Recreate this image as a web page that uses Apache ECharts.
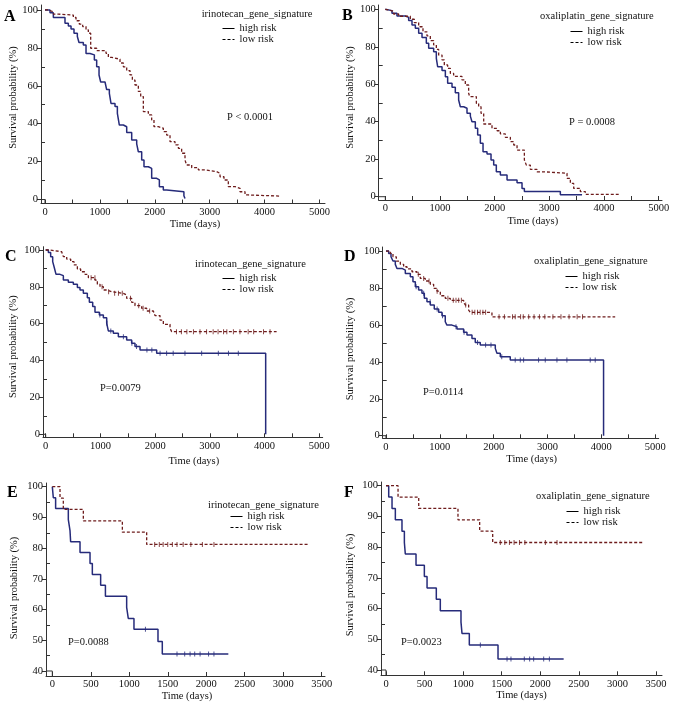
<!DOCTYPE html>
<html><head><meta charset="utf-8">
<script src="https://cdn.jsdelivr.net/npm/echarts@6/dist/echarts.min.js"></script>
<style>html,body{margin:0;padding:0;background:#fff}#c{width:677px;height:706px}</style>
</head><body><div id="c"></div>
<script>
// ---------------- DATA ----------------
const letters = ['A','B','C','D','E','F'];
const signatures = ['irinotecan_gene_signature','oxaliplatin_gene_signature','irinotecan_gene_signature','oxaliplatin_gene_signature','irinotecan_gene_signature','oxaliplatin_gene_signature'];
const pTexts = ['P < 0.0001','P = 0.0008','P=0.0079','P=0.0114','P=0.0088','P=0.0023'];
const seriesNames = ['high risk','low risk'];
const xTitle = 'Time (days)';
const yTitle = 'Survival probability (%)';

const xLabelsLong = [0,1000,2000,3000,4000,5000];
const xTicksLong = [0,500,1000,1500,2000,2500,3000,3500,4000,4500,5000];
const xLabelsShort = [0,500,1000,1500,2000,2500,3000,3500];
const xTicksShort = [0,500,1000,1500,2000,2500,3000,3500];
const yLabelsFull = [0,20,40,60,80,100];
const yMinorFull = [10,30,50,70,90];
const yLabelsCut = [40,50,60,70,80,90,100];
const yMinorCut = [45,55,65,75,85,95];

// Panel A
const aHigh = [[0,100],[91,98.5],[152,96],[364,93],[425,91.5],[474,90],[528,87.7],[589,86],[619,82.8],[698,81.5],[747,77],[820,76.3],[899,73.6],[941,70],[984,65.7],[1014,62],[1093,61.3],[1123,58],[1172,56],[1202,50.7],[1275,49],[1318,45.5],[1354,39.3],[1427,38.4],[1488,35.3],[1579,31.4],[1670,29.3],[1700,25.2],[1761,20.8],[1803,17.3],[1882,16.4],[1943,11.2],[2034,10.3],[2083,6.8],[2155,5],[2216,4.1],[2530,2],[2550,0.5]];
const aLow = [[0,100],[61,99],[152,97.8],[243,97.3],[516,96],[565,94.3],[625,92.5],[686,91.2],[747,89.5],[789,87.7],[832,79.8],[941,78.5],[1111,77.1],[1154,75],[1214,74],[1366,72],[1427,70],[1488,68],[1548,65.7],[1591,63],[1639,60.4],[1700,57],[1743,54.3],[1791,46.4],[1882,44.6],[1943,42],[1985,38.4],[2064,37.6],[2155,35.8],[2216,34],[2277,30.5],[2368,28.8],[2429,27],[2489,24.4],[2550,20.8],[2580,18.2],[2672,16.8],[2793,15.6],[2914,14.7],[3127,13.8],[3188,12],[3260,10.3],[3339,6.8],[3461,5.9],[3552,4.1],[3643,2.4],[3700,1.8],[4290,1.8]];
const aHighCens = [];
const aLowCens = [];

// Panel B
const bHigh = [[0,100],[30,99.3],[122,97.9],[213,96.4],[366,95.7],[427,94],[488,91.6],[549,89.9],[610,87.2],[671,85],[750,81.9],[793,79.2],[884,77.4],[933,73.8],[957,69.4],[1037,67.3],[1098,64],[1140,60.5],[1220,58.4],[1280,55.5],[1341,51.6],[1372,48],[1433,47.2],[1494,44.5],[1555,43],[1585,40],[1646,36.5],[1689,32.9],[1738,28.5],[1787,24],[1860,22.8],[1933,19.6],[1982,16.9],[2030,13.3],[2104,11.6],[2226,8.9],[2409,7.5],[2500,4.4],[2543,2.8],[3201,1],[3598,1]];
const bLow = [[0,100],[30,99],[152,97.5],[244,96.3],[457,94.7],[530,92.9],[610,90.7],[689,88],[762,85.8],[823,83.3],[884,81],[933,78.6],[976,75.6],[1037,73],[1079,70.3],[1140,68.5],[1189,65.8],[1250,64.2],[1402,62.3],[1463,59.6],[1524,55.2],[1543,53.4],[1665,49.8],[1707,48],[1750,44.5],[1799,38.8],[1951,36.5],[2043,35.2],[2104,33.5],[2195,31.7],[2287,29.4],[2348,27.6],[2409,24.9],[2543,19.6],[2579,16.9],[2652,14.6],[2774,13.3],[2896,12.5],[3323,9.8],[3384,7.1],[3445,4.4],[3567,2.7],[3659,1.2],[4268,1.2]];
const bHighCens = [];
const bLowCens = [];

// Panel C
const cHigh = [[0,100],[49,98.7],[91,96.4],[128,93.7],[158,90.4],[189,86.8],[262,86.1],[323,83.7],[414,82.5],[505,81.4],[579,79.6],[627,78.3],[688,76.5],[761,74.1],[798,71.6],[859,69.3],[901,66.2],[981,64.7],[1054,63.3],[1115,60.2],[1145,56.1],[1236,54.8],[1328,53],[1480,51.2],[1571,49.4],[1632,47.6],[1724,45.8],[2028,44],[4020,0]];
const cLow = [[0,100],[79,99.1],[292,98.2],[323,96.4],[384,95.1],[457,93.7],[518,91.9],[579,89.7],[639,88.2],[719,86.8],[780,85],[901,83.7],[944,81.4],[993,80.1],[1054,78.3],[1115,77.4],[1206,76.5],[1419,75.6],[1480,73.8],[1571,71.6],[1632,69.8],[1754,68.4],[1845,66.9],[1967,66.2],[1998,64.4],[2089,62],[2150,59.7],[2272,57.5],[2302,55.7],[4220,55.7]];
const cHighCens = [990,1120,1190,1420,1575,1660,1850,1940,2090,2210,2330,2545,2850,3155,3340,3520];
const cLowCens = [830,900,1030,1150,1260,1330,1400,1550,1700,1780,1900,2390,2480,2580,2700,2820,2940,3060,3150,3250,3310,3430,3550,3700,3800,3980,4100];

// Panel D
const dHigh = [[0,100],[50,98.7],[93,96.9],[130,94.6],[173,92.8],[204,90.6],[297,89.7],[359,87.9],[452,86.1],[501,83.4],[545,80.7],[606,78.9],[668,77.1],[712,74.4],[761,72.6],[823,70.8],[897,68.6],[978,66.8],[1040,65],[1101,61.7],[1132,59.9],[1225,59],[1318,57.8],[1442,56],[1504,54.5],[1597,52.7],[1658,50.5],[1751,49.1],[2030,47.3],[2061,44.6],[2123,42.8],[2308,41],[4041,0]];
const dLow = [[0,100],[80,98.7],[130,96.9],[192,94.6],[266,92.8],[328,91.5],[390,90.3],[483,88.8],[575,87.4],[637,85.2],[730,83.8],[823,82],[885,79.8],[947,78.3],[1009,75.8],[1101,74.4],[1194,73.3],[1442,72.2],[1473,70.8],[1535,68],[1566,66.8],[1968,64.4],[4257,64.4]];
const dHighCens = [560,700,820,950,1050,1300,1450,1700,1850,1950,2150,2400,2494,2556,2834,2958,3175,3360,3793,3886];
const dLowCens = [600,700,800,950,1150,1250,1300,1350,1400,1480,1600,1650,1700,1750,1800,1850,2100,2200,2350,2400,2500,2550,2650,2750,2850,2950,3100,3250,3400,3550,3650];

// Panel E
const eHigh = [[0,100],[13,96.4],[43,92.9],[208,89.3],[230,85.7],[238,82.1],[360,78.6],[490,75],[520,71.4],[628,67.9],[690,64.3],[966,60.7],[987,57.1],[1061,53.6],[1373,49.6],[1429,45.5],[2287,45.5]];
const eLow = [[0,100],[100,96.3],[143,92.6],[403,88.9],[910,85.2],[1226,81.2],[3339,81.2]];
const eHighCens = [1210,1620,1720,1790,1850,1920,2030,2100];
const eLowCens = [1330,1390,1440,1500,1560,1620,1700,1800,1950,2100];

// Panel F
const fHigh = [[0,100],[35,96.3],[78,92.6],[121,88.9],[207,85.2],[238,81.5],[250,77.8],[389,74.1],[497,70.4],[532,66.7],[652,63],[704,59.3],[972,55.6],[985,51.9],[1080,48.1],[1452,43.6],[2303,43.6]];
const fLow = [[0,100],[156,96.3],[424,92.6],[933,88.9],[1214,85.2],[1383,81.5],[3332,81.5]];
const fHighCens = [1223,1569,1620,1793,1862,1914,2044,2118];
const fLowCens = [1482,1540,1600,1660,1730,1800,2066,2217];

// ---------------- LAYOUT ----------------
const FONT = "'Liberation Serif','Times New Roman',serif";
const HIGH_COLOR = '#262b7a';
const LOW_COLOR = '#6e1c1c';
const AXIS_COLOR = '#333';

const layouts = [
  {grid:[41,5,284,198.5], x:[-73,5100], y:[-2.1,102.6], long:true, xGap:13.5, xPad:24, yGap:22.5, yShift:6.75, letter:[4,8.5], lt:[201.7,9], lg:[222,23], p:[227,112]},
  {grid:[378.7,5,283.3,195], x:[-121,5060], y:[-1.76,102.3], long:true, xGap:15.7, xPad:25, yGap:23, yShift:5, letter:[342,7.5], lt:[540,11], lg:[570,26], p:[569,117]},
  {grid:[43,246.7,279.7,190.6], x:[-49,5062], y:[-1.63,101.8], long:true, xGap:18, xPad:22, yGap:24.5, yShift:-4.7, letter:[5,248.5], lt:[195,259], lg:[222,273], p:[100,383]},
  {grid:[382.7,247,276,191.3], x:[-61,5065], y:[-1.4,102.2], long:true, xGap:15.7, xPad:22, yGap:27, yShift:-6.3, letter:[344,248.5], lt:[534,256], lg:[565,271], p:[423,387]},
  {grid:[46,483,279,193], x:[-82,3543], y:[38.37,101.2], long:false, xGap:14.7, xPad:3, yGap:26.5, yShift:-8.5, letter:[7,484.5], lt:[208,500], lg:[230,511], p:[68,637]},
  {grid:[381,482,281,193.3], x:[-65,3578], y:[38.27,101.2], long:false, xGap:14.7, xPad:0, yGap:25.5, yShift:-6.3, letter:[344,484.5], lt:[536,491], lg:[566,506], p:[401,637]}
];
const curves = [[aHigh,aLow],[bHigh,bLow],[cHigh,cLow],[dHigh,dLow],[eHigh,eLow],[fHigh,fLow]];
const censors = [[aHighCens,aLowCens],[bHighCens,bLowCens],[cHighCens,cLowCens],[dHighCens,dLowCens],[eHighCens,eLowCens],[fHighCens,fLowCens]];

function survAt(curve, t){
  let s = curve[0][1];
  for (const p of curve){ if (p[0] <= t) s = p[1]; else break; }
  return s;
}

const grids=[], xAxes=[], yAxes=[], series=[], titles=[], legends=[];
const txt = (size, extra) => Object.assign({fontFamily:FONT, fontSize:size, color:'#111'}, extra||{});
const plain = v => String(v);

layouts.forEach((L, i) => {
  grids.push({left:L.grid[0], top:L.grid[1], width:L.grid[2], height:L.grid[3], outerBoundsMode:'none', containLabel:false});
  const xLabels = L.long ? xLabelsLong : xLabelsShort;
  const xTicks = L.long ? xTicksLong : xTicksShort;
  const yLabels = L.long ? yLabelsFull : yLabelsCut;
  const yMinor = L.long ? yMinorFull : yMinorCut;
  xAxes.push({
    gridIndex:i, type:'value', min:L.x[0], max:L.x[1], position:'bottom',
    axisLine:{onZero:false, lineStyle:{color:AXIS_COLOR, width:1}},
    axisTick:{inside:true, length:4, customValues:xTicks, lineStyle:{color:AXIS_COLOR}},
    axisLabel:{customValues:xLabels, formatter:plain, margin:3, fontFamily:FONT, fontSize:10.5, color:'#111'},
    splitLine:{show:false},
    name:xTitle, nameLocation:'middle', nameGap:L.xGap,
    nameTextStyle:txt(10.5, {padding:[0,0,0,L.xPad]})
  });
  const sh = L.yShift;
  yAxes.push({
    gridIndex:i, type:'value', min:L.y[0], max:L.y[1], position:'left',
    axisLine:{onZero:false, lineStyle:{color:AXIS_COLOR, width:1}},
    axisTick:{inside:false, length:4, customValues:yLabels, lineStyle:{color:AXIS_COLOR}},
    axisLabel:{customValues:yLabels, formatter:plain, margin:3, fontFamily:FONT, fontSize:10.5, color:'#111'},
    splitLine:{show:false},
    name:yTitle, nameLocation:'middle', nameGap:L.yGap,
    nameTextStyle:txt(10.5, {padding: sh>=0 ? [0,0,0,2*sh] : [0,-2*sh,0,0]})
  });
  yAxes.push({
    gridIndex:i, type:'value', min:L.y[0], max:L.y[1], position:'left',
    axisLine:{show:false, onZero:false},
    axisTick:{inside:true, length:4, customValues:yMinor, lineStyle:{color:AXIS_COLOR}},
    axisLabel:{show:false}, splitLine:{show:false}
  });
  const yBase = yLabels[0];
  series.push({type:'line', xAxisIndex:i, yAxisIndex:2*i, symbol:'none', silent:true, animation:false,
    lineStyle:{color:AXIS_COLOR, width:1}, data:[[L.x[0], yBase],[0, yBase],[0, L.y[0]]]});
  [0,1].forEach(k => {
    const color = k===0 ? HIGH_COLOR : LOW_COLOR;
    series.push({
      type:'line', name:seriesNames[k], xAxisIndex:i, yAxisIndex:2*i, step:'end', symbol:'none',
      animation:false, silent:true, z: k===0 ? 3 : 4,
      itemStyle:{color},
      lineStyle:{color, width: k===0 ? 1.5 : 1.3, type: k===0 ? 'solid' : [3,2]},
      data: curves[i][k]
    });
    const cens = censors[i][k];
    if (cens.length) series.push({
      type:'scatter', name:seriesNames[k]+' censored', xAxisIndex:i, yAxisIndex:2*i,
      symbol:'rect', symbolSize:[1,5], animation:false, silent:true, z:5,
      itemStyle:{color},
      data: cens.map(t => [t, survAt(curves[i][k], t)])
    });
  });
  titles.push({text:letters[i], left:L.letter[0], top:L.letter[1], padding:0,
    textStyle:{fontFamily:FONT, fontSize:16, fontWeight:'bold', color:'#000'}});
  titles.push({text:signatures[i], left:L.lt[0], top:L.lt[1], padding:0,
    textStyle:{fontFamily:FONT, fontSize:10.5, fontWeight:'normal', color:'#111'}});
  titles.push({text:pTexts[i], left:L.p[0], top:L.p[1], padding:0,
    textStyle:{fontFamily:FONT, fontSize:10.5, fontWeight:'normal', color:'#111'}});
  legends.push({
    orient:'vertical', left:L.lg[0], top:L.lg[1], padding:0, itemGap:0,
    itemWidth:12, itemHeight:8, selectedMode:false,
    textStyle:{fontFamily:FONT, fontSize:10.5, color:'#111'},
    data:[
      {name:seriesNames[0], itemStyle:{opacity:0}, lineStyle:{color:'#000', width:1, opacity:1}},
      {name:seriesNames[1], itemStyle:{opacity:0}, lineStyle:{color:'#000', width:1, opacity:1}}
    ]
  });
});

const chart = echarts.init(document.getElementById('c'), null, {renderer:'canvas'});
chart.setOption({
  backgroundColor:'#fff', animation:false,
  grid:grids, xAxis:xAxes, yAxis:yAxes, series, title:titles, legend:legends
});
</script>
</body></html>
